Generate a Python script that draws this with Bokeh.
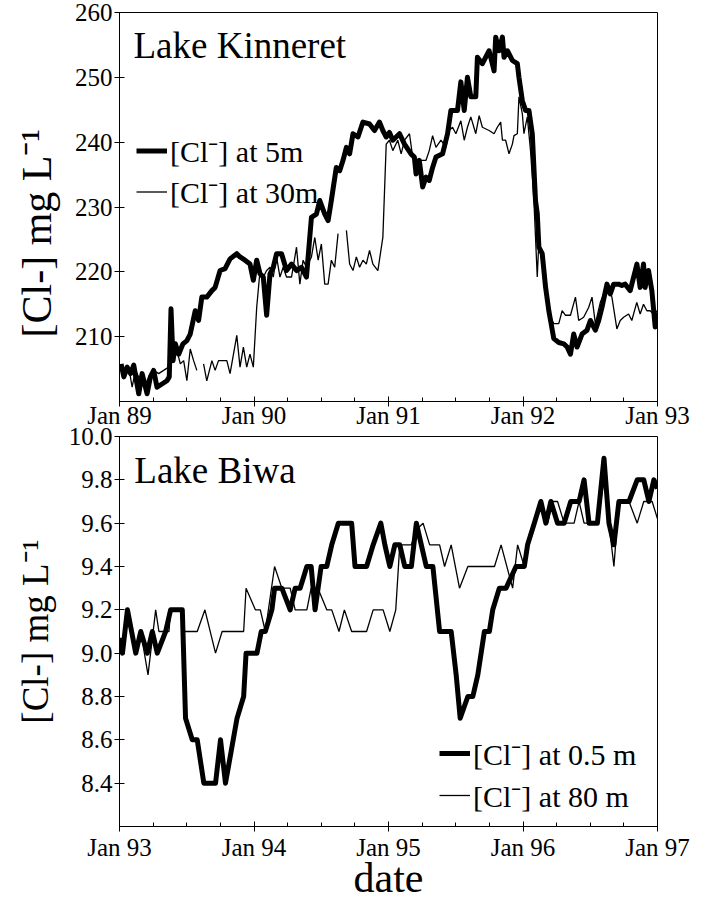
from bokeh.plotting import figure
from bokeh.models import (FixedTicker, Label, Legend, LegendItem, Range1d,
                          NumeralTickFormatter)
from bokeh.layouts import column
from bokeh.embed import file_html
from bokeh.resources import INLINE

NaN = float("nan")
FONT = "Liberation Serif"

# ---------------- Lake Kinneret (decimal year, mg/L) ----------------
kin_year_labels = ["Jan 89", "Jan 90", "Jan 91", "Jan 92", "Jan 93"]
kin_years = [1989, 1990, 1991, 1992, 1993]
kin_yticks = [210, 220, 230, 240, 250, 260]

kin_t5 = [1989.012, 1989.032, 1989.057, 1989.082, 1989.106, 1989.126, 1989.143, 1989.168, 1989.205, 1989.230,
          1989.254, 1989.279, 1989.316, 1989.353, 1989.370, 1989.383, 1989.398, 1989.415, 1989.440, 1989.472,
          1989.501, 1989.526, 1989.563, 1989.588, 1989.612, 1989.649, 1989.687, 1989.711, 1989.748, 1989.785,
          1989.822, 1989.872, 1989.896, 1989.933, 1989.970, 1989.995, 1990.020, 1990.045, 1990.069, 1990.094,
          1990.119, 1990.143, 1990.168, 1990.205, 1990.242, 1990.279, 1990.316, 1990.353, 1990.390, 1990.427,
          1990.464, 1990.489, 1990.526, 1990.551, 1990.575, 1990.612, 1990.637, 1990.662, 1990.687, 1990.711,
          1990.736, 1990.773, 1990.810, 1990.859, 1990.896, 1990.933, 1990.958, 1990.983, 1991.007, 1991.032,
          1991.082, 1991.119, 1991.167, 1991.192, 1991.205, 1991.229, 1991.254, 1991.279, 1991.303, 1991.328,
          1991.353, 1991.402, 1991.439, 1991.464, 1991.513, 1991.538, 1991.563, 1991.587, 1991.612, 1991.649,
          1991.661, 1991.698, 1991.748, 1991.785, 1991.797, 1991.822, 1991.847, 1991.859, 1991.884, 1991.921,
          1991.958, 1991.970, 1991.995, 1992.019, 1992.044, 1992.069, 1992.093, 1992.106, 1992.118, 1992.143,
          1992.168, 1992.192, 1992.229, 1992.266, 1992.303, 1992.328, 1992.353, 1992.377, 1992.402, 1992.439,
          1992.476, 1992.501, 1992.538, 1992.563, 1992.587, 1992.624, 1992.649, 1992.674, 1992.711, 1992.735,
          1992.760, 1992.797, 1992.847, 1992.871, 1992.896, 1992.908, 1992.933, 1992.958, 1992.983, 1992.997]
kin_5m = [205.8, 203.8, 205.3, 204.3, 205.6, 203.2, 201.2, 204.3, 201.2, 203.8,
          204.8, 202.2, 202.7, 203.2, 203.8, 214.3, 206.3, 208.9, 207.3, 208.9,
          209.4, 210.4, 214.0, 212.5, 216.1, 216.1, 217.1, 217.6, 220.2, 220.5,
          222.0, 222.8, 222.3, 221.8, 221.2, 218.7, 221.8, 219.7, 219.2, 213.3,
          219.7, 220.7, 222.8, 222.8, 220.2, 221.2, 220.2, 220.7, 219.2, 228.4,
          228.9, 231.0, 228.9, 227.9, 231.0, 236.1, 235.6, 237.2, 239.2, 238.2,
          241.3, 240.8, 243.1, 242.8, 241.8, 243.1, 241.8, 240.8, 241.5, 240.3,
          241.3, 239.7, 238.2, 237.7, 235.1, 237.2, 233.1, 234.6, 234.1, 236.1,
          237.7, 238.2, 241.3, 244.9, 244.9, 249.3, 244.9, 250.0, 247.0, 247.0,
          253.1, 252.1, 254.1, 251.0, 256.2, 254.1, 256.2, 253.1, 254.1, 252.6,
          252.1, 250.0, 246.4, 244.9, 244.9, 241.3, 231.0, 229.0, 223.8, 222.8,
          217.6, 214.0, 209.7, 209.1, 208.9, 208.4, 207.3, 210.4, 208.4, 210.4,
          211.0, 212.5, 211.0, 212.5, 214.5, 218.1, 216.6, 218.1, 218.1, 217.9,
          218.1, 217.1, 221.2, 217.6, 221.2, 217.6, 220.2, 217.1, 211.5, 213.8]

kin_t30 = [1989.012, 1989.044, 1989.069, 1989.094, 1989.119, 1989.156, 1989.193, 1989.230, 1989.254, 1989.291,
           1989.328, 1989.365, 1989.390, 1989.427, 1989.452, 1989.477, 1989.501, 1989.526, 1989.551, 1989.575,
           1989.600,
           1989.625, 1989.649, 1989.687, 1989.711, 1989.736, 1989.798, 1989.822, 1989.872, 1989.896, 1989.921,
           1989.946, 1989.970, 1989.995, 1990.020, 1990.045, 1990.069, 1990.094, 1990.119, 1990.143, 1990.168,
           1990.193, 1990.217, 1990.242, 1990.279, 1990.316, 1990.341, 1990.365, 1990.390, 1990.427, 1990.452,
           1990.477, 1990.501, 1990.526, 1990.551, 1990.575, 1990.600, 1990.625,
           1990.655,
           1990.687, 1990.711, 1990.736, 1990.761, 1990.785, 1990.810, 1990.835, 1990.859, 1990.884, 1990.921,
           1990.958, 1990.983, 1991.007, 1991.032, 1991.069, 1991.094, 1991.119, 1991.156, 1991.180, 1991.205,
           1991.254, 1991.279, 1991.303, 1991.328, 1991.353, 1991.390, 1991.427, 1991.451, 1991.476, 1991.501,
           1991.538, 1991.563, 1991.587, 1991.612, 1991.649, 1991.674, 1991.698, 1991.748, 1991.785, 1991.809,
           1991.834, 1991.847, 1991.871, 1991.896, 1991.921, 1991.933, 1991.958, 1991.970, 1991.995, 1992.007,
           1992.032, 1992.056, 1992.081, 1992.106, 1992.118, 1992.143, 1992.168, 1992.205, 1992.229, 1992.266,
           1992.291, 1992.316, 1992.353, 1992.390, 1992.414, 1992.451, 1992.488, 1992.513, 1992.538, 1992.575,
           1992.600, 1992.637, 1992.661, 1992.698, 1992.723, 1992.748, 1992.785, 1992.809, 1992.846, 1992.871,
           1992.896, 1992.921, 1992.945, 1992.970, 1992.997]
kin_30m = [205.3, 204.3, 205.3, 202.2, 204.8, 203.2, 202.7, 204.3, 204.8, 204.3,
           204.8, 205.3, 207.3, 207.9, 205.8, 206.3, 203.2, 208.1, 206.3, 204.8,
           NaN,
           205.8, 203.2, 206.3, 204.8, 206.3, 206.3, 204.3, 210.2, 205.3, 208.4,
           205.3, 207.3, 205.3, 214.5, 220.2, 219.2, 220.2, 220.7, 219.2, 222.3,
           219.2, 220.7, 219.2, 219.2, 223.8, 218.1, 221.8, 220.7, 222.3, 225.3,
           221.8, 224.3, 218.1, 218.1, 221.8, 220.7, 225.9,
           NaN,
           226.4, 221.2, 220.2, 222.3, 220.7, 221.8, 221.2, 223.3, 221.2, 220.2,
           225.3, 239.7, 240.3, 238.7, 240.3, 238.2, 240.3, 241.3, 237.7, 237.2,
           237.2, 237.2, 238.7, 241.0, 239.2, 240.3, 239.2, 241.8, 242.3, 241.3,
           243.3, 240.3, 242.3, 243.9, 241.3, 244.1, 242.3, 241.8, 241.3, 242.3,
           243.1, 240.3, 240.3, 238.2, 239.7, 241.0, 241.3, 247.0, 244.4, 241.3,
           243.9, 238.7, 231.0, 219.2, 224.8, 221.2, 217.6, 213.0, 212.0, 212.0,
           214.0, 213.3, 213.3, 216.1, 212.5, 213.0, 214.5, 216.1, 212.0, 215.3,
           216.6, 217.6, 216.1, 211.2, 212.5, 213.0, 213.5, 212.5, 215.3, 213.5,
           215.0, 214.0, 214.0, 213.5, 214.0]

# ---------------- Lake Biwa (decimal year, mg/L) ----------------
biwa_year_labels = ["Jan 93", "Jan 94", "Jan 95", "Jan 96", "Jan 97"]
biwa_years = [1993, 1994, 1995, 1996, 1997]
biwa_yticks = [8.4, 8.6, 8.8, 9.0, 9.2, 9.4, 9.6, 9.8, 10.0]

biwa_t05 = [1993.000, 1993.022, 1993.059, 1993.121, 1993.158, 1993.207, 1993.244, 1993.281, 1993.343, 1993.380,
            1993.467, 1993.491, 1993.541, 1993.578, 1993.627, 1993.714, 1993.751, 1993.788, 1993.874, 1993.923,
            1993.941, 1994.022, 1994.054, 1994.084, 1994.133, 1994.153, 1994.207, 1994.269, 1994.306, 1994.343,
            1994.393, 1994.425, 1994.454, 1994.499, 1994.541, 1994.578, 1994.627, 1994.726, 1994.751, 1994.837,
            1994.886, 1994.943, 1994.973, 1995.010, 1995.047, 1995.084, 1995.121, 1995.170, 1995.207, 1995.244,
            1995.281, 1995.330, 1995.380, 1995.466, 1995.503, 1995.533, 1995.590, 1995.627, 1995.664, 1995.713,
            1995.750, 1995.775, 1995.824, 1995.874, 1995.948, 1996.010, 1996.034, 1996.084, 1996.133, 1996.170,
            1996.207, 1996.257, 1996.306, 1996.355, 1996.417, 1996.454, 1996.491, 1996.553, 1996.602, 1996.639,
            1996.676, 1996.713, 1996.788, 1996.849, 1996.898, 1996.936, 1996.973, 1997.000]
biwa_05m = [9.07, 9.0, 9.2, 9.0, 9.1, 9.0, 9.1, 9.0, 9.1, 9.2,
            9.2, 8.7, 8.6, 8.6, 8.4, 8.4, 8.6, 8.4, 8.7, 8.8,
            9.0, 9.0, 9.1, 9.1, 9.2, 9.3, 9.3, 9.2, 9.3, 9.3,
            9.4, 9.4, 9.2, 9.4, 9.4, 9.5, 9.6, 9.6, 9.4, 9.4,
            9.5, 9.6, 9.5, 9.4, 9.5, 9.5, 9.4, 9.4, 9.6, 9.5,
            9.4, 9.4, 9.1, 9.1, 8.9, 8.7, 8.8, 8.8, 8.9, 9.1,
            9.1, 9.2, 9.3, 9.3, 9.4, 9.4, 9.5, 9.6, 9.7, 9.6,
            9.7, 9.6, 9.6, 9.7, 9.7, 9.8, 9.6, 9.6, 9.9, 9.6,
            9.5, 9.7, 9.7, 9.8, 9.8, 9.7, 9.8, 9.76]

biwa_t80 = [1993.000, 1993.022, 1993.059, 1993.121, 1993.158, 1993.212, 1993.269, 1993.293, 1993.368, 1993.380,
            1993.467, 1993.479, 1993.578, 1993.635, 1993.714, 1993.763, 1993.923, 1993.941, 1994.010, 1994.047,
            1994.084, 1994.153, 1994.207, 1994.269, 1994.306, 1994.393, 1994.425, 1994.475, 1994.541, 1994.578,
            1994.632, 1994.672, 1994.726, 1994.837, 1994.886, 1994.960, 1995.010, 1995.054, 1995.084, 1995.170,
            1995.207, 1995.257, 1995.306, 1995.380, 1995.417, 1995.466, 1995.528, 1995.590, 1995.788, 1995.837,
            1995.923, 1995.960, 1996.010, 1996.034, 1996.084, 1996.133, 1996.183, 1996.220, 1996.257, 1996.306,
            1996.380, 1996.417, 1996.454, 1996.553, 1996.602, 1996.676, 1996.713, 1996.788, 1996.849, 1996.898,
            1996.960, 1997.000]
biwa_80m = [9.05, 9.0, 9.2, 9.0, 9.1, 8.9, 9.2, 9.1, 9.1, 9.2,
            9.2, 9.1, 9.1, 9.2, 9.0, 9.1, 9.1, 9.3, 9.2, 9.2,
            9.1, 9.4, 9.3, 9.3, 9.2, 9.2, 9.3, 9.3, 9.2, 9.2,
            9.1, 9.2, 9.1, 9.1, 9.2, 9.2, 9.1, 9.2, 9.5, 9.5,
            9.57, 9.6, 9.5, 9.5, 9.4, 9.5, 9.3, 9.4, 9.4, 9.5,
            9.3, 9.5, 9.4, 9.5, 9.6, 9.7, 9.6, 9.7, 9.7, 9.6,
            9.6, 9.7, 9.6, 9.6, 9.8, 9.4, 9.7, 9.7, 9.6, 9.7,
            9.7, 9.62]


def style_axes(p, years, year_labels, yticks, yfmt):
    p.xgrid.visible = False
    p.ygrid.visible = False
    p.outline_line_color = "black"
    p.outline_line_width = 1
    p.outline_line_alpha = 1
    p.background_fill_color = "white"
    minor = [y + q * 0.25 for y in years[:-1] for q in (1, 2, 3)]
    xa = p.xaxis[0]
    xa.ticker = FixedTicker(ticks=years, minor_ticks=minor)
    xa.major_label_overrides = {y: l for y, l in zip(years, year_labels)}
    ya = p.yaxis[0]
    ya.ticker = FixedTicker(ticks=yticks, minor_ticks=[])
    ya.formatter = NumeralTickFormatter(format=yfmt)
    for ax in (xa, ya):
        ax.axis_line_color = "black"
        ax.major_tick_line_color = "black"
        ax.minor_tick_line_color = "black"
        ax.major_tick_in = 5
        ax.major_tick_out = 5
        ax.minor_tick_in = 4
        ax.minor_tick_out = 0
        ax.major_label_text_font = FONT
        ax.major_label_text_font_size = "25px"
        ax.major_label_text_color = "black"
        ax.major_label_standoff = 2
        ax.axis_label_text_font = FONT
        ax.axis_label_text_font_style = "normal"
        ax.axis_label_text_color = "black"
    xa.major_label_standoff = -5


# ---------------- top panel ----------------
p1 = figure(width=702, height=433, output_backend="svg", toolbar_location=None,
            x_range=Range1d(1989, 1993), y_range=Range1d(200, 260),
            min_border_left=119, min_border_right=43, min_border_top=12, min_border_bottom=32)
p1.border_fill_color = "white"
style_axes(p1, kin_years, kin_year_labels, kin_yticks, "0")
p1.yaxis[0].axis_label = "[Cl-] mg L\u207b\u00b9" + "\u00a0" * 5
p1.yaxis[0].axis_label_text_font_size = "42px"
p1.yaxis[0].axis_label_standoff = 12

r5 = p1.line(kin_t5, kin_5m, line_color="black", line_width=5, line_join="round")
r30 = p1.line(kin_t30, kin_30m, line_color="black", line_width=1.3)
p1.add_layout(Label(x=1989.104, y=254.9, text="Lake Kinneret", text_font=FONT,
                    text_font_size="37px", text_baseline="middle", text_color="black"))
leg1 = Legend(items=[LegendItem(label="[Cl\u207b] at 5m", renderers=[r5]),
                     LegendItem(label="[Cl\u207b] at 30m", renderers=[r30])],
              location=(17, 189), orientation="vertical",
              border_line_alpha=0, background_fill_alpha=0,
              label_text_font=FONT, label_text_font_size="30px", label_text_color="black",
              glyph_width=31, glyph_height=39, label_height=39,
              spacing=0, padding=0, margin=0, label_standoff=3)
p1.add_layout(leg1)

# ---------------- bottom panel ----------------
p2 = figure(width=702, height=487, output_backend="svg", toolbar_location=None,
            x_range=Range1d(1993, 1997), y_range=Range1d(8.2, 10.0),
            min_border_left=117, min_border_right=45, min_border_top=19, min_border_bottom=78)
p2.border_fill_alpha = 0
p2.margin = (-16, 0, 0, 0)
style_axes(p2, biwa_years, biwa_year_labels, biwa_yticks, "0.0")
p2.xaxis[0].major_label_standoff = 2
p2.yaxis[0].axis_label = "[Cl-] mg L\u207b\u00b9"
p2.yaxis[0].axis_label_text_font_size = "37px"
p2.yaxis[0].axis_label_standoff = 10
p2.xaxis[0].axis_label = "date"
p2.xaxis[0].axis_label_text_font_size = "42px"
p2.xaxis[0].axis_label_standoff = -9

rb05 = p2.line(biwa_t05, biwa_05m, line_color="black", line_width=5, line_join="round")
rb80 = p2.line(biwa_t80, biwa_80m, line_color="black", line_width=1.3)
p2.add_layout(Label(x=1993.11, y=9.843, text="Lake Biwa", text_font=FONT,
                    text_font_size="37px", text_baseline="middle", text_color="black"))
leg2 = Legend(items=[LegendItem(label="[Cl\u207b] at 0.5 m", renderers=[rb05]),
                     LegendItem(label="[Cl\u207b] at 80 m", renderers=[rb80])],
              location=(320, 10), orientation="vertical",
              border_line_alpha=0, background_fill_alpha=0,
              label_text_font=FONT, label_text_font_size="30px", label_text_color="black",
              glyph_width=31, glyph_height=42, label_height=42,
              spacing=0, padding=0, margin=0, label_standoff=3)
p2.add_layout(leg2)

layout = column(p1, p2, spacing=0)
open("out.html", "w").write(file_html(layout, INLINE))
